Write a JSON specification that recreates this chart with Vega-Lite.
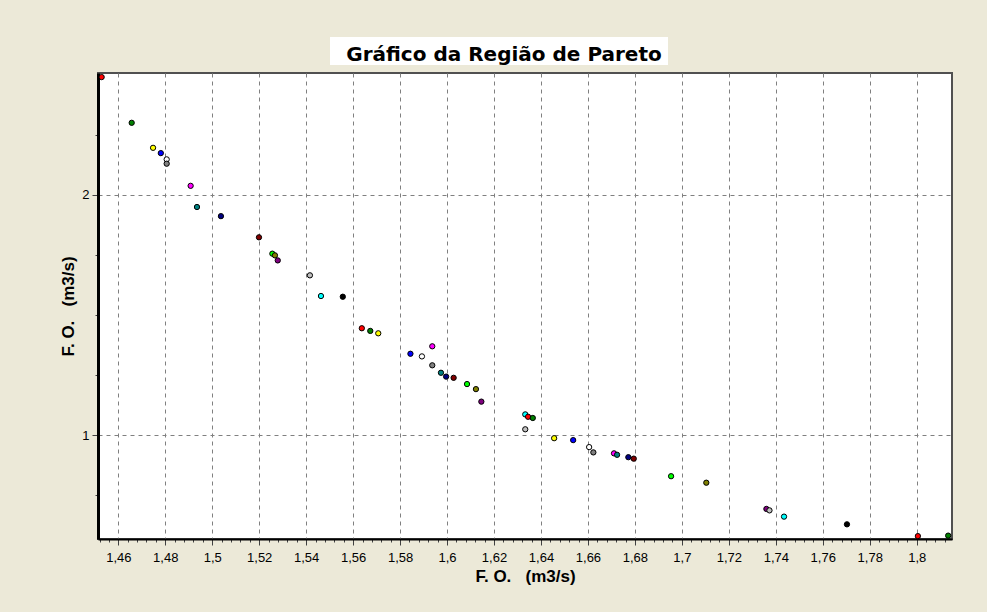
{
  "$schema": "https://vega.github.io/schema/vega-lite/v6.json",
  "background": "#ECE9D8",
  "padding": {"left": 58, "top": 37, "right": 40, "bottom": 32},
  "config": {"view": {"stroke": null}},
  "datasets": {
    "titulo": [{"t": "Gráfico da Região de Pareto"}],
    "espaco": [{"t": ""}],
    "pareto": [
      {"fo1": 1.4529, "fo2": 2.489, "grupo": "vermelho"},
      {"fo1": 1.4657, "fo2": 2.299, "grupo": "verde"},
      {"fo1": 1.4748, "fo2": 2.195, "grupo": "amarelo"},
      {"fo1": 1.4781, "fo2": 2.173, "grupo": "azul"},
      {"fo1": 1.4806, "fo2": 2.147, "grupo": "branco"},
      {"fo1": 1.4806, "fo2": 2.129, "grupo": "cinza"},
      {"fo1": 1.4908, "fo2": 2.037, "grupo": "magenta"},
      {"fo1": 1.4935, "fo2": 1.949, "grupo": "petroleo"},
      {"fo1": 1.5037, "fo2": 1.911, "grupo": "marinho"},
      {"fo1": 1.5199, "fo2": 1.823, "grupo": "bordo"},
      {"fo1": 1.5256, "fo2": 1.755, "grupo": "lima"},
      {"fo1": 1.5267, "fo2": 1.748, "grupo": "oliva"},
      {"fo1": 1.5279, "fo2": 1.727, "grupo": "roxo"},
      {"fo1": 1.5416, "fo2": 1.665, "grupo": "prata"},
      {"fo1": 1.5463, "fo2": 1.579, "grupo": "ciano"},
      {"fo1": 1.5556, "fo2": 1.576, "grupo": "preto"},
      {"fo1": 1.5637, "fo2": 1.445, "grupo": "vermelho"},
      {"fo1": 1.5673, "fo2": 1.434, "grupo": "verde"},
      {"fo1": 1.5707, "fo2": 1.424, "grupo": "amarelo"},
      {"fo1": 1.5844, "fo2": 1.339, "grupo": "azul"},
      {"fo1": 1.5893, "fo2": 1.328, "grupo": "branco"},
      {"fo1": 1.5937, "fo2": 1.370, "grupo": "magenta"},
      {"fo1": 1.5937, "fo2": 1.291, "grupo": "cinza"},
      {"fo1": 1.5974, "fo2": 1.260, "grupo": "petroleo"},
      {"fo1": 1.5996, "fo2": 1.244, "grupo": "marinho"},
      {"fo1": 1.6028, "fo2": 1.239, "grupo": "bordo"},
      {"fo1": 1.6085, "fo2": 1.213, "grupo": "lima"},
      {"fo1": 1.6123, "fo2": 1.192, "grupo": "oliva"},
      {"fo1": 1.6146, "fo2": 1.140, "grupo": "roxo"},
      {"fo1": 1.6333, "fo2": 1.087, "grupo": "ciano"},
      {"fo1": 1.6345, "fo2": 1.077, "grupo": "vermelho"},
      {"fo1": 1.6365, "fo2": 1.072, "grupo": "verde"},
      {"fo1": 1.6333, "fo2": 1.025, "grupo": "prata"},
      {"fo1": 1.6456, "fo2": 0.988, "grupo": "amarelo"},
      {"fo1": 1.6537, "fo2": 0.980, "grupo": "azul"},
      {"fo1": 1.6605, "fo2": 0.951, "grupo": "branco"},
      {"fo1": 1.6623, "fo2": 0.929, "grupo": "cinza"},
      {"fo1": 1.6711, "fo2": 0.925, "grupo": "magenta"},
      {"fo1": 1.6724, "fo2": 0.919, "grupo": "petroleo"},
      {"fo1": 1.6772, "fo2": 0.909, "grupo": "marinho"},
      {"fo1": 1.6795, "fo2": 0.903, "grupo": "bordo"},
      {"fo1": 1.6954, "fo2": 0.830, "grupo": "lima"},
      {"fo1": 1.7104, "fo2": 0.803, "grupo": "oliva"},
      {"fo1": 1.7360, "fo2": 0.694, "grupo": "roxo"},
      {"fo1": 1.7373, "fo2": 0.688, "grupo": "prata"},
      {"fo1": 1.7435, "fo2": 0.662, "grupo": "ciano"},
      {"fo1": 1.7703, "fo2": 0.630, "grupo": "preto"},
      {"fo1": 1.8005, "fo2": 0.581, "grupo": "vermelho"},
      {"fo1": 1.8134, "fo2": 0.583, "grupo": "verde"}
    ]
  },
  "bounds": "full",
  "spacing": 6,
  "vconcat": [
    {
      "bounds": "full",
      "spacing": 0,
      "hconcat": [
        {
          "width": 232,
          "height": 28,
          "data": {"name": "espaco"},
          "mark": {"type": "text"},
          "encoding": {"text": {"field": "t", "type": "nominal"}}
        },
        {
          "width": 338,
          "height": 28,
          "view": {"fill": "#FFFFFF", "stroke": null},
          "data": {"name": "titulo"},
          "mark": {"type": "text", "font": "DejaVu Sans", "fontWeight": "bold", "fontSize": 20, "baseline": "alphabetic", "align": "center", "dx": 5, "dy": 10, "color": "#000000"},
          "encoding": {"text": {"field": "t", "type": "nominal"}}
        }
      ]
    },
    {
      "width": 854,
      "height": 466,
      "view": {"fill": "#FFFFFF", "stroke": "#505050", "strokeWidth": 2},
      "data": {"name": "pareto"},
      "mark": {"type": "point", "filled": true, "size": 28, "stroke": "#000000", "strokeWidth": 1, "opacity": 1},
      "encoding": {
        "x": {
          "field": "fo1",
          "type": "quantitative",
          "scale": {"domain": [1.45135, 1.81503], "nice": false, "zero": false},
          "axis": {
            "title": "F. O.\u00a0\u00a0 (m3/s)",
            "values": [1.452,1.456,1.46,1.464,1.468,1.472,1.476,1.48,1.484,1.488,1.492,1.496,1.5,1.504,1.508,1.512,1.516,1.52,1.524,1.528,1.532,1.536,1.54,1.544,1.548,1.552,1.556,1.56,1.564,1.568,1.572,1.576,1.58,1.584,1.588,1.592,1.596,1.6,1.604,1.608,1.612,1.616,1.62,1.624,1.628,1.632,1.636,1.64,1.644,1.648,1.652,1.656,1.66,1.664,1.668,1.672,1.676,1.68,1.684,1.688,1.692,1.696,1.7,1.704,1.708,1.712,1.716,1.72,1.724,1.728,1.732,1.736,1.74,1.744,1.748,1.752,1.756,1.76,1.764,1.768,1.772,1.776,1.78,1.784,1.788,1.792,1.796,1.8,1.804,1.808,1.812],
            "labelExpr": "round(datum.value*1000) % 20 == 0 ? replace(format(datum.value, '~g'), '.', ',') : ''",
            "labelFont": "Liberation Sans",
            "labelFontSize": 13,
            "labelColor": "#000000",
            "labelPadding": 6,
            "labelOverlap": false,
            "labelFlush": false,
            "tickColor": "#404040",
            "tickSize": {"condition": {"test": "round(datum.value*1000) % 20 == 0", "value": 6}, "value": 3},
            "grid": true,
            "gridColor": "#808080",
            "gridDash": [4, 4],
            "gridOpacity": {"condition": {"test": "round(datum.value*1000) % 20 == 0", "value": 1}, "value": 0},
            "domainColor": "#000000",
            "domainWidth": 2,
            "titleFont": "Liberation Sans",
            "titleFontSize": 17,
            "titleFontWeight": "bold",
            "titleColor": "#000000",
            "titlePadding": 4
          }
        },
        "y": {
          "field": "fo2",
          "type": "quantitative",
          "scale": {"domain": [0.569, 2.506], "nice": false, "zero": false},
          "axis": {
            "title": "F. O.\u00a0\u00a0 (m3/s)",
            "values": [0.75, 1, 1.25, 1.5, 1.75, 2, 2.25],
            "labelExpr": "abs(datum.value - round(datum.value)) < 0.001 ? format(datum.value, 'd') : ''",
            "labelFont": "Liberation Sans",
            "labelFontSize": 13,
            "labelColor": "#000000",
            "labelPadding": 3,
            "labelOverlap": false,
            "labelFlush": false,
            "tickColor": "#404040",
            "tickSize": {"condition": {"test": "abs(datum.value - round(datum.value)) < 0.001", "value": 6}, "value": 3},
            "grid": true,
            "gridColor": "#808080",
            "gridDash": [4, 4],
            "gridOpacity": {"condition": {"test": "abs(datum.value - round(datum.value)) < 0.001", "value": 1}, "value": 0},
            "domainColor": "#000000",
            "domainWidth": 3,
            "titleFont": "Liberation Sans",
            "titleFontSize": 17,
            "titleFontWeight": "bold",
            "titleColor": "#000000",
            "titlePadding": 4
          }
        },
        "color": {
          "field": "grupo",
          "type": "nominal",
          "scale": {
            "domain": ["vermelho", "verde", "amarelo", "azul", "branco", "cinza", "magenta", "petroleo", "marinho", "bordo", "lima", "oliva", "roxo", "prata", "ciano", "preto"],
            "range": ["#FF0000", "#008000", "#FFFF00", "#0000FF", "#FFFFFF", "#808080", "#FF00FF", "#008080", "#000080", "#800000", "#00FF00", "#808000", "#800080", "#C0C0C0", "#00FFFF", "#000000"]
          },
          "legend": null
        }
      }
    }
  ]
}
